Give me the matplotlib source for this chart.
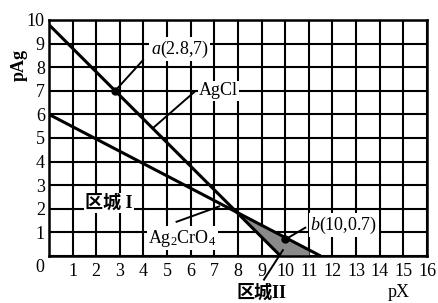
import numpy as np
import matplotlib
matplotlib.use("Agg")
import matplotlib.pyplot as plt

# ---- data ----
agcl_x = [0, 9.8]
agcl_y = [9.8, 0]
cro4_x = [0, 11.5]
cro4_y = [6, 0]
point_a = (2.8, 7)
point_b = (10, 0.7)
shade_end_x = 11.0
x_ticks = list(range(0, 17))
y_ticks = list(range(0, 11))

FONT = ['Liberation Serif', 'Noto Sans CJK SC']
plt.rcParams['font.family'] = FONT
plt.rcParams['font.size'] = 13
plt.rcParams['mathtext.fontset'] = 'custom'
plt.rcParams['mathtext.rm'] = 'Liberation Serif'
plt.rcParams['mathtext.it'] = 'Liberation Serif:italic'
plt.rcParams['mathtext.bf'] = 'Liberation Serif:bold'

fig = plt.figure(figsize=(4.39, 3.03), dpi=100)
ax = fig.add_axes([49/439, 1-256/303, 378/439, 236/303])
ax.set_xlim(0, 16)
ax.set_ylim(0, 10)

ax.set_xticks(x_ticks)
ax.set_yticks(y_ticks)
ax.set_xticklabels([''] + [str(v) for v in x_ticks[1:]])
ax.set_yticklabels([''] + [str(v) for v in y_ticks[1:]])
ax.tick_params(length=0, pad=3, labelsize=13)
ax.tick_params(axis='x', pad=5)
ax.grid(True, color='black', lw=1.5, zorder=1)
ax.set_axisbelow(True)
for s in ax.spines.values():
    s.set_linewidth(1.8)
    s.set_zorder(5)

ax.text(-0.38, -0.5, '0', ha='center', va='center', fontsize=13, clip_on=False)

# shaded region
m1 = (agcl_y[1]-agcl_y[0])/(agcl_x[1]-agcl_x[0])
m2 = (cro4_y[1]-cro4_y[0])/(cro4_x[1]-cro4_x[0])
xi = (cro4_y[0]-agcl_y[0])/(m1-m2)
xs = np.linspace(xi, shade_end_x, 100)
low = np.maximum(np.interp(xs, agcl_x, agcl_y), 0)
up = np.interp(xs, cro4_x, cro4_y)
ax.fill_between(xs, low, up, color='#8a8a8a', lw=0, zorder=2)

ax.plot(agcl_x, agcl_y, color='black', lw=2.2, zorder=3, solid_capstyle='butt')
ax.plot(cro4_x, cro4_y, color='black', lw=2.2, zorder=3, solid_capstyle='butt')
ax.plot(*point_a, 'o', color='black', ms=5, zorder=4)
ax.plot(*point_b, 'o', color='black', ms=5, zorder=4)

box = dict(fc='white', ec='none', pad=1.0)
lk = dict(color='black', lw=1.4, zorder=4)

# a label
ax.plot([point_a[0], 3.98], [point_a[1], 8.3], **lk)
ax.text(4.3, 8.77, r'$\mathit{a}$(2.8,7)', ha='left', va='center', bbox=box, zorder=6)
# AgCl label
ax.plot([4.4, 6.15], [5.42, 6.95], **lk)
ax.text(6.35, 7.0, 'AgCl', ha='left', va='center', bbox=box, zorder=6)
# region I
ax.text(2.55, 2.25, '区城 I', ha='center', va='center', bbox=box, zorder=6,
        fontweight='bold')
# Ag2CrO4 label
ax.plot([5.4, 7.2], [1.45, 2.1], **lk)
ax.text(4.2, 0.75, r'Ag$_\mathrm{2}$CrO$_\mathrm{4}$', ha='left', va='center',
        bbox=box, zorder=6)
# b label
ax.plot([point_b[0], 10.85], [point_b[1], 1.2], **lk)
ax.text(11.05, 1.3, r'$\mathit{b}$(10,0.7)', ha='left', va='center', bbox=box, zorder=6)
# region II
ax.plot([9.1, 9.9], [-1.0, 0.25], clip_on=False, **lk)
ax.text(9.0, -1.55, '区城II', ha='center', va='center', clip_on=False,
        fontweight='bold')
# axis labels
ax.text(14.8, -1.55, 'pX', ha='center', va='center', clip_on=False)
ax.text(-1.25, 8.1, 'pAg', ha='center', va='center', rotation=90,
        fontweight='bold', clip_on=False)

fig.savefig('out.png', dpi=100)
